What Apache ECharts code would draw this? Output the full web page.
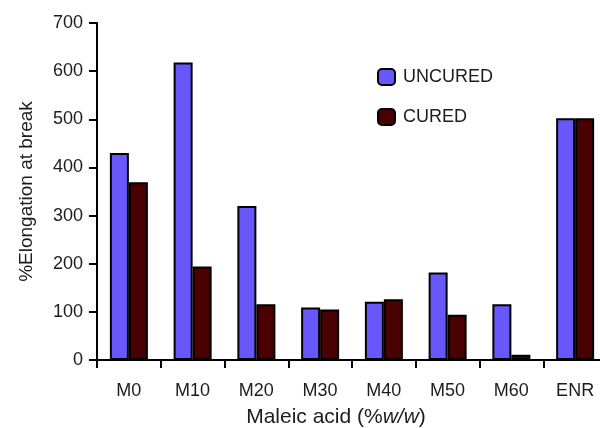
<!DOCTYPE html>
<html>
<head>
<meta charset="utf-8">
<script src="https://cdn.jsdelivr.net/npm/echarts@6/dist/echarts.min.js"></script>
<style>
html,body{margin:0;padding:0;background:#fff;}
#chart{width:600px;height:428px;}
</style>
</head>
<body>
<div id="chart"></div>
<script>
var categories = ['M0', 'M10', 'M20', 'M30', 'M40', 'M50', 'M60', 'ENR'];
var uncured = [430, 618, 320, 109, 121, 182, 116, 502];
var cured = [369, 194, 116, 105, 126, 94, 11, 502];
var yTicks = [0, 100, 200, 300, 400, 500, 600, 700];

var font = 'Liberation Sans, Arial, sans-serif';
var txt = '#1c1c1c';
var chart = echarts.init(document.getElementById('chart'), null, {renderer: 'canvas'});
chart.setOption({
  animation: false,
  backgroundColor: '#fff',
  grid: {left: 97, top: 23, width: 510, bottom: 68, containLabel: false, outerBoundsMode: 'none'},
  legend: {
    orient: 'vertical',
    left: 377,
    top: 68,
    padding: 0,
    itemWidth: 17,
    itemHeight: 16,
    itemGap: 22,
    textStyle: {fontFamily: font, fontSize: 18, color: txt, padding: [0, 0, 0, 3]},
    data: ['UNCURED', 'CURED']
  },
  xAxis: {
    type: 'category',
    data: categories,
    boundaryGap: true,
    axisLine: {lineStyle: {color: '#000', width: 2}},
    axisTick: {show: true, length: 8, lineStyle: {color: '#000', width: 2}},
    axisLabel: {fontFamily: font, fontSize: 18, color: txt, margin: 22},
    name: '{n|Maleic acid (%}{i|w/w}{n|)}',
    nameLocation: 'middle',
    nameGap: 47,
    nameTextStyle: {
      padding: [0, 32, 0, 0],
      rich: {
        n: {fontFamily: font, fontSize: 21, color: txt},
        i: {fontFamily: font, fontSize: 21, fontStyle: 'italic', color: txt}
      }
    }
  },
  yAxis: {
    type: 'value',
    min: yTicks[0],
    max: yTicks[yTicks.length - 1],
    interval: 100,
    splitLine: {show: false},
    axisLine: {show: true, lineStyle: {color: '#000', width: 2}},
    axisTick: {show: true, length: 8, lineStyle: {color: '#000', width: 2}},
    axisLabel: {fontFamily: font, fontSize: 18, color: txt, margin: 14},
    name: '%Elongation at break',
    nameLocation: 'middle',
    nameGap: 61,
    nameTextStyle: {fontFamily: font, fontSize: 19, color: txt}
  },
  series: [
    {
      name: 'UNCURED',
      type: 'bar',
      data: uncured,
      barWidth: 19,
      barGap: '0%',
      itemStyle: {color: '#6858fc', borderColor: '#000', borderWidth: 2}
    },
    {
      name: 'CURED',
      type: 'bar',
      data: cured,
      barWidth: 19,
      barGap: '0%',
      itemStyle: {color: '#4a0000', borderColor: '#000', borderWidth: 2}
    }
  ]
});
</script>
</body>
</html>
